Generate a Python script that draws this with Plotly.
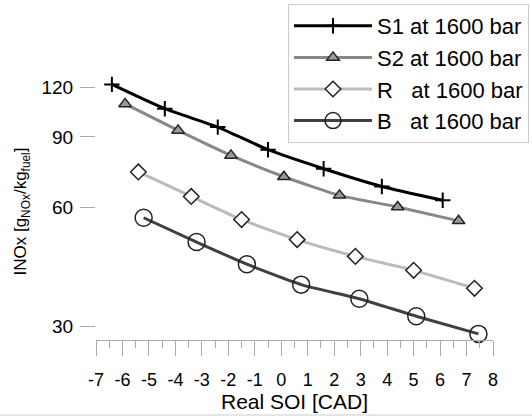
import plotly.graph_objects as go
import math

# Data
s1_x = [-6.4, -4.4, -2.4, -0.5, 1.6, 3.8, 6.1]
s1_y = [122, 106, 95.3, 83.6, 74.9, 67.6, 62.4]
s2_x = [-5.9, -3.9, -1.9, 0.1, 2.2, 4.4, 6.7]
s2_y = [109, 93.5, 80.9, 71.5, 64.2, 60.0, 55.4]
r_x = [-5.4, -3.4, -1.5, 0.6, 2.8, 5.0, 7.3]
r_y = [73.5, 63.8, 55.8, 49.7, 45.1, 41.6, 37.5]
b_x = [-5.2, -3.2, -1.3, 0.75, 2.95, 5.1, 7.45]
b_y = [56.4, 49.0, 43.1, 38.3, 35.3, 31.9, 28.8]

names = ["S1 at 1600 bar", "S2 at 1600 bar",
         "R\u00a0\u00a0\u00a0at 1600 bar", "B\u00a0\u00a0\u00a0at 1600 bar"]
x_ticks = list(range(-7, 9))
y_ticks = [30, 60, 90, 120]
y_min, y_max, y_axis_top = 27.8, 123.0, 120.0

FONT = "Liberation Sans, Arial, sans-serif"
AX = "#aaaaaa"

W, H = 532, 417
L, R, B = 96, 39, 77
PH = 257
T = H - B - PH
PW = W - L - R

fig = go.Figure()
fig.add_trace(go.Scatter(
    x=s1_x, y=s1_y, name=names[0], mode="lines+markers", cliponaxis=False,
    line=dict(color="black", width=3, shape="spline", smoothing=0.5),
    marker=dict(symbol="cross-thin", size=11, color="black",
                line=dict(color="black", width=2))))
fig.add_trace(go.Scatter(
    x=s2_x, y=s2_y, name=names[1], mode="lines+markers", cliponaxis=False,
    line=dict(color="#888888", width=3, shape="spline", smoothing=0.5),
    marker=dict(symbol="triangle-up", size=11, color="#999999",
                line=dict(color="#222222", width=1.5))))
fig.add_trace(go.Scatter(
    x=r_x, y=r_y, name=names[2], mode="lines+markers", cliponaxis=False,
    line=dict(color="#bbbbbb", width=3, shape="spline", smoothing=0.5),
    marker=dict(symbol="diamond", size=12, color="white",
                line=dict(color="#222222", width=1.5))))
fig.add_trace(go.Scatter(
    x=b_x, y=b_y, name=names[3], mode="lines+markers", cliponaxis=False,
    line=dict(color="#404040", width=3, shape="spline", smoothing=0.5),
    marker=dict(symbol="circle", size=17, color="rgba(0,0,0,0)",
                line=dict(color="#222222", width=1.5))))

fig.update_layout(
    width=W, height=H,
    margin=dict(l=L, r=R, t=T, b=B, autoexpand=False),
    paper_bgcolor="white", plot_bgcolor="white",
    font=dict(family=FONT, color="black"),
    showlegend=True,
    legend=dict(
        x=(288 - L) / PW, y=(H - B - 4) / PH, xanchor="left", yanchor="top",
        bgcolor="white", bordercolor="#cccccc", borderwidth=1,
        font=dict(size=22, family=FONT), itemwidth=78, tracegroupgap=0,
    ),
    xaxis=dict(
        range=[-7, 8], tickvals=x_ticks, ticktext=[str(v) for v in x_ticks],
        showgrid=False, zeroline=False, showline=True, linecolor=AX, linewidth=1,
        ticks="outside", ticklen=15, tickcolor=AX, tickwidth=1,
        minor=dict(dtick=0.5, ticks="outside", ticklen=7, tickcolor=AX, showgrid=False),
        tickfont=dict(size=18), ticklabelstandoff=8,
        title=dict(text="Real SOI [CAD]", font=dict(size=21), standoff=4),
    ),
    yaxis=dict(
        type="log", range=[math.log10(y_min), math.log10(y_max)],
        tickvals=y_ticks, ticktext=[str(v) for v in y_ticks],
        showgrid=False, zeroline=False, showline=False,
        ticks="outside", ticklen=15, tickcolor=AX, tickwidth=1,
        tickfont=dict(size=19), ticklabelstandoff=3,
        title=dict(text="INOx [g<sub>NOx</sub>/kg<sub>fuel</sub>]", font=dict(size=17), standoff=10),
    ),
    shapes=[
        dict(type="line", xref="paper", yref="y", x0=0, x1=0,
             y0=math.log10(y_min), y1=math.log10(y_axis_top),
             line=dict(color=AX, width=1)),
        dict(type="line", xref="paper", yref="paper",
             x0=-L / PW, x1=(W - L) / PW, y0=(H - B - 415) / PH, y1=(H - B - 415) / PH,
             line=dict(color="#cccccc", width=1)),
    ],
)

fig.write_html("out.html", config={"displayModeBar": False},
               post_script="document.body.style.margin='0';document.body.style.overflow='hidden';")
